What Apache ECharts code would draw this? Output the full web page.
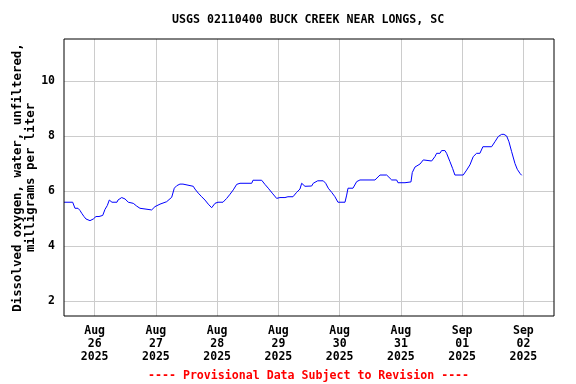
<!DOCTYPE html>
<html>
<head>
<meta charset="utf-8">
<script src="https://cdn.jsdelivr.net/npm/echarts@6/dist/echarts.min.js"></script>
<style>
html,body{margin:0;padding:0;background:#fff;}
#chart{width:576px;height:384px;}
</style>
</head>
<body>
<div id="chart"></div>
<script>
// Observation times (local) and dissolved oxygen values (mg/L)
const times = [
"2025-08-25T12:00","2025-08-25T15:24","2025-08-25T15:55","2025-08-25T16:18","2025-08-25T17:29",
"2025-08-25T18:16","2025-08-25T18:56","2025-08-25T19:50","2025-08-25T20:37","2025-08-25T22:11",
"2025-08-25T23:29","2025-08-26T00:32","2025-08-26T01:43","2025-08-26T02:23","2025-08-26T03:10",
"2025-08-26T04:04","2025-08-26T04:58","2025-08-26T05:45","2025-08-26T06:48","2025-08-26T08:46",
"2025-08-26T09:09","2025-08-26T10:36","2025-08-26T11:54","2025-08-26T13:12","2025-08-26T15:09",
"2025-08-26T16:29","2025-08-26T17:46","2025-08-26T18:26","2025-08-26T22:21","2025-08-26T23:39",
"2025-08-27T01:37","2025-08-27T04:14","2025-08-27T06:12","2025-08-27T07:13","2025-08-27T08:09",
"2025-08-27T09:26","2025-08-27T10:37","2025-08-27T11:24","2025-08-27T14:39","2025-08-27T15:19",
"2025-08-27T16:37","2025-08-27T17:57","2025-08-27T19:14","2025-08-27T20:32","2025-08-27T21:52",
"2025-08-27T23:10","2025-08-28T00:20","2025-08-28T02:18","2025-08-28T03:45","2025-08-28T05:03",
"2025-08-28T06:20","2025-08-28T07:40","2025-08-28T08:58","2025-08-28T13:33","2025-08-28T14:03",
"2025-08-28T17:27","2025-08-28T18:44","2025-08-28T20:02","2025-08-28T21:36","2025-08-28T23:19",
"2025-08-29T00:37","2025-08-29T02:35","2025-08-29T03:45","2025-08-29T05:43","2025-08-29T07:10",
"2025-08-29T08:28","2025-08-29T09:08","2025-08-29T10:25","2025-08-29T13:02","2025-08-29T13:40",
"2025-08-29T15:24","2025-08-29T17:36","2025-08-29T18:32","2025-08-29T19:33","2025-08-29T20:53",
"2025-08-29T22:10","2025-08-29T23:21","2025-08-30T02:06","2025-08-30T02:46","2025-08-30T03:17",
"2025-08-30T05:14","2025-08-30T06:41","2025-08-30T07:58","2025-08-30T13:51","2025-08-30T15:49",
"2025-08-30T18:26","2025-08-30T20:24","2025-08-30T22:21","2025-08-30T22:52","2025-08-31T01:37",
"2025-08-31T03:58","2025-08-31T04:28","2025-08-31T05:31","2025-08-31T07:29","2025-08-31T08:47",
"2025-08-31T09:26","2025-08-31T12:03","2025-08-31T13:21","2025-08-31T14:01","2025-08-31T15:18",
"2025-08-31T15:58","2025-08-31T17:16","2025-08-31T17:55","2025-08-31T19:13","2025-08-31T20:16",
"2025-08-31T21:10","2025-09-01T00:26","2025-09-01T01:46","2025-09-01T03:04","2025-09-01T04:21",
"2025-09-01T05:40","2025-09-01T06:58","2025-09-01T08:08","2025-09-01T11:33","2025-09-01T12:51",
"2025-09-01T14:09","2025-09-01T15:29","2025-09-01T16:23","2025-09-01T17:27","2025-09-01T18:21",
"2025-09-01T19:24","2025-09-01T20:42","2025-09-01T21:36","2025-09-01T22:40","2025-09-01T23:20"
];
const oxygen = [
5.59,5.59,5.53,5.37,5.37,
5.29,5.19,5.07,4.98,4.92,
4.98,5.07,5.07,5.00,5.11,
5.33,5.47,5.67,5.59,5.59,
5.67,5.76,5.71,5.59,5.55,
5.45,5.37,5.31,5.31,5.43,
5.52,5.61,5.77,6.10,6.19,
6.25,6.25,6.19,6.17,6.07,
5.92,5.79,5.67,5.52,5.39,
5.55,5.59,5.59,5.73,5.88,
6.04,6.24,6.28,6.28,6.39,
6.39,6.24,6.10,5.92,5.73,
5.76,5.76,5.79,5.79,5.95,
6.07,6.28,6.17,6.18,6.28,
6.37,6.37,6.28,6.10,5.95,
5.79,5.59,5.59,5.85,6.10,
6.10,6.34,6.40,6.40,6.58,
6.58,6.40,6.40,6.30,6.30,
6.33,6.67,6.87,6.98,7.13,
7.09,7.09,7.25,7.37,7.37,
7.47,7.47,7.37,7.07,6.82,
6.58,6.58,6.76,6.95,7.25,
7.37,7.37,7.61,7.61,7.79,
7.98,8.06,8.06,8.00,7.79,
7.43,7.00,6.79,6.64,6.57
];
// x tick labels (one per day, midnight)
const dayLabels = ["Aug\n26\n2025","Aug\n27\n2025","Aug\n28\n2025","Aug\n29\n2025","Aug\n30\n2025","Aug\n31\n2025","Sep\n01\n2025","Sep\n02\n2025"];
const yTicks = [2,4,6,8,10];

const titleText = "USGS 02110400 BUCK CREEK NEAR LONGS, SC";
const yName = "Dissolved oxygen, water, unfiltered,\nmilligrams per liter";
const footer = "---- Provisional Data Subject to Revision ----";

// x expressed in days from Aug 26 2025 00:00
const base = new Date("2025-08-26T00:00").getTime();
const seriesData = times.map((t, i) => [(new Date(t).getTime() - base) / 86400000, oxygen[i]]);

const FONT = "'DejaVu Sans Mono', 'Liberation Mono', monospace";
const chart = echarts.init(document.getElementById('chart'), null, {renderer: 'canvas'});
chart.setOption({
  animation: false,
  backgroundColor: '#ffffff',
  title: [
    {text: titleText, left: 172, top: 14, padding: 0,
     textStyle: {fontFamily: FONT, fontSize: 11.6, fontWeight: 'bold', color: '#000'}},
    {text: footer, left: 148, top: 370, padding: 0,
     textStyle: {fontFamily: FONT, fontSize: 11.6, fontWeight: 'bold', color: '#ff0000'}}
  ],
  grid: {left: 64, right: 22, top: 39, bottom: 68, show: true, borderColor: '#000', borderWidth: 1,
         containLabel: false, outerBoundsMode: 'none', z: 5},
  xAxis: {
    type: 'value', min: -0.5, max: 7.5, splitNumber: 8, minInterval: 1, maxInterval: 1,
    axisLine: {show: false}, axisTick: {show: false},
    splitLine: {show: true, showMinLine: false, showMaxLine: false, lineStyle: {color: '#cccccc', width: 1}},
    axisLabel: {
      showMinLabel: false, showMaxLabel: false, margin: 9,
      fontFamily: FONT, fontSize: 11.5, fontWeight: 'bold', color: '#000', lineHeight: 13,
      formatter: v => { const i = Math.round(v); return (Math.abs(v - i) < 1e-6 && dayLabels[i]) ? dayLabels[i] : ''; }
    }
  },
  yAxis: {
    type: 'value', min: 1.45, max: 11.53, splitNumber: 5, minInterval: 2, maxInterval: 2,
    name: yName, nameLocation: 'middle', nameGap: 27, nameRotate: 90, nameMoveOverlap: false,
    nameTextStyle: {fontFamily: FONT, fontSize: 12.4, fontWeight: 'bold', color: '#000', lineHeight: 13},
    axisLine: {show: false}, axisTick: {show: false},
    splitLine: {show: true, showMinLine: false, showMaxLine: false, lineStyle: {color: '#cccccc', width: 1}},
    axisLabel: {
      showMinLabel: false, showMaxLabel: false, margin: 9,
      fontFamily: FONT, fontSize: 11.5, fontWeight: 'bold', color: '#000',
      formatter: v => yTicks.indexOf(Math.round(v*1000)/1000) >= 0 ? String(Math.round(v)) : ''
    }
  },
  series: [{
    type: 'line', data: seriesData, showSymbol: false, symbol: 'none',
    lineStyle: {color: '#0000ff', width: 1}, z: 3
  }]
});
</script>
</body>
</html>
